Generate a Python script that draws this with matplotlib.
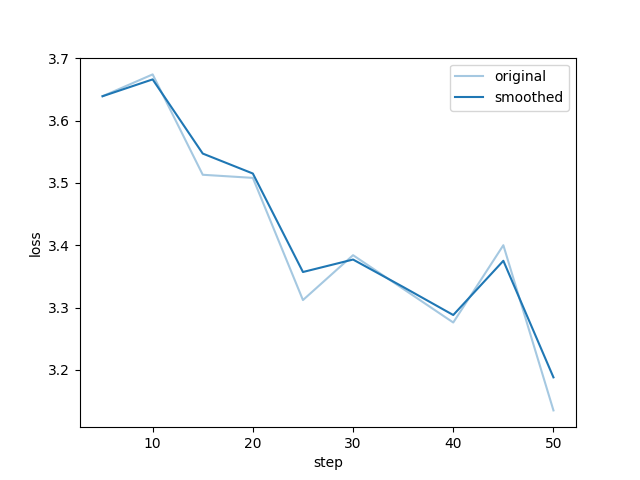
import matplotlib
matplotlib.use("Agg")
import matplotlib.pyplot as plt

# loss curve
steps    = [5, 10, 15, 20, 25, 30, 35, 40, 45, 50]
original = [3.639, 3.674, 3.513, 3.508, 3.312, 3.384, 3.330, 3.276, 3.400, 3.135]
smoothed = [3.639, 3.666, 3.547, 3.515, 3.357, 3.377, 3.333, 3.288, 3.375, 3.188]

fig, ax = plt.subplots(figsize=(6.4, 4.8), dpi=100)
ax.plot(steps, original, color='#1f77b4', alpha=0.4, label='original')
ax.plot(steps, smoothed, color='#1f77b4', label='smoothed')
ax.set_xlabel('step')
ax.set_ylabel('loss')
ax.legend()

fig.savefig('out.png', dpi=100)
